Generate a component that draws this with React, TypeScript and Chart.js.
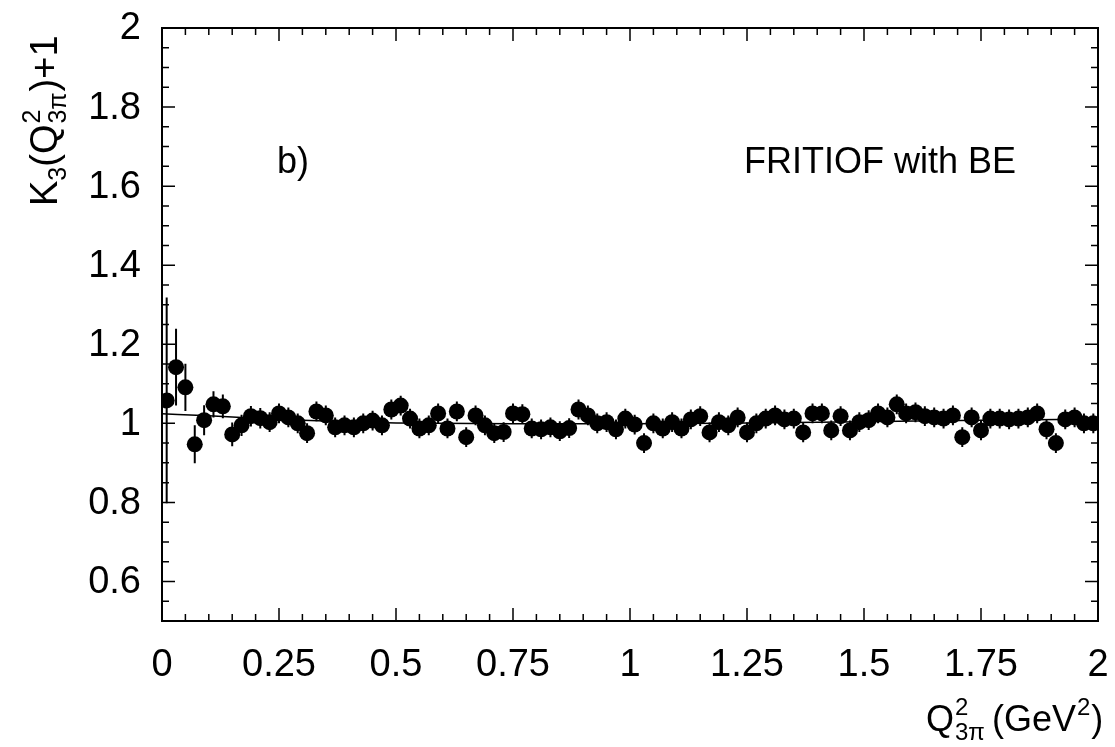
import React, { useEffect, useRef } from "react";
import { Chart, registerables } from "chart.js";
Chart.register(...registerables);

const binCenters = [
  0.01, 0.03, 0.05, 0.07, 0.09, 0.11, 0.13, 0.15, 0.17, 0.19,
  0.21, 0.23, 0.25, 0.27, 0.29, 0.31, 0.33, 0.35, 0.37, 0.39,
  0.41, 0.43, 0.45, 0.47, 0.49, 0.51, 0.53, 0.55, 0.57, 0.59,
  0.61, 0.63, 0.65, 0.67, 0.69, 0.71, 0.73, 0.75, 0.77, 0.79,
  0.81, 0.83, 0.85, 0.87, 0.89, 0.91, 0.93, 0.95, 0.97, 0.99,
  1.01, 1.03, 1.05, 1.07, 1.09, 1.11, 1.13, 1.15, 1.17, 1.19,
  1.21, 1.23, 1.25, 1.27, 1.29, 1.31, 1.33, 1.35, 1.37, 1.39,
  1.41, 1.43, 1.45, 1.47, 1.49, 1.51, 1.53, 1.55, 1.57, 1.59,
  1.61, 1.63, 1.65, 1.67, 1.69, 1.71, 1.73, 1.75, 1.77, 1.79,
  1.81, 1.83, 1.85, 1.87, 1.89, 1.91, 1.93, 1.95, 1.97, 1.99,
];

const k3Values = [
  1.058, 1.142, 1.091, 0.947, 1.008, 1.048, 1.043, 0.972, 0.995, 1.018,
  1.013, 1.003, 1.025, 1.015, 1.0, 0.975, 1.03, 1.02, 0.99, 0.995,
  0.99, 1.0, 1.007, 0.995, 1.035, 1.045, 1.012, 0.987, 0.995, 1.025,
  0.987, 1.03, 0.965, 1.02, 0.995, 0.975, 0.978, 1.025, 1.023, 0.987,
  0.985, 0.99, 0.98, 0.988, 1.035, 1.02, 1.0, 1.003, 0.985, 1.012,
  0.997, 0.95, 1.0, 0.987, 1.003, 0.987, 1.01, 1.018, 0.977, 1.003,
  0.995, 1.015, 0.977, 1.0, 1.012, 1.02, 1.01, 1.012, 0.977, 1.025,
  1.025, 0.982, 1.018, 0.982, 1.003, 1.008, 1.025, 1.015, 1.048, 1.025,
  1.028, 1.018, 1.015, 1.012, 1.02, 0.965, 1.015, 0.982, 1.012, 1.012,
  1.01, 1.012, 1.015, 1.025, 0.985, 0.95, 1.01, 1.015, 1.0, 1.0,
];

const k3Errors = [
  0.26, 0.097, 0.06, 0.048, 0.038, 0.033, 0.03, 0.03, 0.027, 0.026,
  0.026, 0.025, 0.025, 0.025, 0.025, 0.025, 0.025, 0.025, 0.025, 0.025,
  0.025, 0.025, 0.025, 0.025, 0.025, 0.025, 0.025, 0.025, 0.025, 0.025,
  0.025, 0.025, 0.025, 0.025, 0.025, 0.025, 0.025, 0.025, 0.025, 0.025,
  0.025, 0.025, 0.025, 0.025, 0.025, 0.025, 0.025, 0.025, 0.025, 0.025,
  0.025, 0.025, 0.025, 0.025, 0.025, 0.025, 0.025, 0.025, 0.025, 0.025,
  0.025, 0.025, 0.025, 0.025, 0.025, 0.025, 0.025, 0.025, 0.025, 0.025,
  0.025, 0.025, 0.025, 0.025, 0.025, 0.025, 0.025, 0.025, 0.025, 0.025,
  0.025, 0.025, 0.025, 0.025, 0.025, 0.025, 0.025, 0.025, 0.025, 0.025,
  0.025, 0.025, 0.025, 0.025, 0.025, 0.025, 0.025, 0.025, 0.025, 0.025,
];

const fitX = [0, 0.1, 0.2, 0.3, 0.4, 0.5, 0.75, 1.0, 1.25, 1.5, 1.75, 2.0];
const fitY = [1.024, 1.019, 1.013, 1.008, 1.004, 1.001, 0.999, 0.999, 1.001, 1.004, 1.008, 1.01];

const xTickValues = [0, 0.25, 0.5, 0.75, 1, 1.25, 1.5, 1.75, 2];
const yTickValues = [0.6, 0.8, 1, 1.2, 1.4, 1.6, 1.8, 2];
const xMinorStep = 0.05;
const yMinorStep = 0.05;

const FONT = "'Liberation Sans', Arial, Helvetica, sans-serif";

const errorBarPlugin = {
  id: "errorBars",
  beforeDatasetsDraw(chart: any) {
    const { ctx, scales } = chart;
    const xs = scales.x, ys = scales.y;
    ctx.save();
    ctx.strokeStyle = "#000";
    ctx.lineWidth = 2;
    ctx.beginPath();
    for (let i = 0; i < binCenters.length; i++) {
      const px = xs.getPixelForValue(binCenters[i]);
      ctx.moveTo(px, ys.getPixelForValue(k3Values[i] + k3Errors[i]));
      ctx.lineTo(px, ys.getPixelForValue(k3Values[i] - k3Errors[i]));
    }
    ctx.stroke();
    ctx.restore();
  },
};

const framePlugin = {
  id: "frame",
  afterDraw(chart: any) {
    const { ctx, chartArea, scales } = chart;
    const { left, right, top, bottom } = chartArea;
    const xs = scales.x, ys = scales.y;
    ctx.save();
    ctx.strokeStyle = "#000";
    ctx.lineWidth = 2;
    ctx.strokeRect(left, top, right - left, bottom - top);
    ctx.lineWidth = 1.5;
    ctx.beginPath();
    const major = 13, minor = 7;
    for (let i = 0; i <= Math.round((xs.max - xs.min) / xMinorStep); i++) {
      const v = xs.min + i * xMinorStep;
      const isMajor = xTickValues.some((t) => Math.abs(t - v) < 1e-6);
      const len = isMajor ? major : minor;
      const px = xs.getPixelForValue(v);
      ctx.moveTo(px, bottom);
      ctx.lineTo(px, bottom - len);
      ctx.moveTo(px, top);
      ctx.lineTo(px, top + len);
    }
    for (let i = 0; i <= Math.round((ys.max - ys.min) / yMinorStep); i++) {
      const v = ys.min + i * yMinorStep;
      const isMajor = yTickValues.some((t) => Math.abs(t - v) < 1e-6);
      const len = isMajor ? major : minor;
      const py = ys.getPixelForValue(v);
      ctx.moveTo(left, py);
      ctx.lineTo(left + len, py);
      ctx.moveTo(right, py);
      ctx.lineTo(right - len, py);
    }
    ctx.stroke();

    ctx.fillStyle = "#000";

    // tick labels
    ctx.font = `38px ${FONT}`;
    ctx.textBaseline = "middle";
    ctx.textAlign = "right";
    for (const v of yTickValues) {
      ctx.fillText(String(v), 141, ys.getPixelForValue(v) + 1);
    }
    ctx.textBaseline = "alphabetic";
    ctx.textAlign = "center";
    for (const v of xTickValues) {
      ctx.fillText(String(v), xs.getPixelForValue(v), 676);
    }

    // texts
    ctx.textAlign = "left";
    ctx.font = `36px ${FONT}`;
    ctx.fillText("b)", 277, 173);
    ctx.fillText("FRITIOF with BE", 744, 173);

    // x axis title: Q^2_{3π} (GeV^2)
    const big = 36, small = 24;
    let x = 926;
    const by = 731;
    ctx.font = `${big}px ${FONT}`;
    ctx.fillText("Q", x, by);
    x += ctx.measureText("Q").width + 1;
    ctx.font = `${small}px ${FONT}`;
    ctx.fillText("2", x, by - 16);
    ctx.fillText("3π", x, by + 9);
    x += ctx.measureText("3π").width + 7;
    ctx.font = `${big}px ${FONT}`;
    ctx.fillText("(GeV", x, by);
    x += ctx.measureText("(GeV").width + 1;
    ctx.font = `${small}px ${FONT}`;
    ctx.fillText("2", x, by - 16);
    x += ctx.measureText("2").width + 1;
    ctx.font = `${big}px ${FONT}`;
    ctx.fillText(")", x, by);

    // y axis title: K_3(Q^2_{3π})+1
    const ybig = 38, ysmall = 25;
    ctx.save();
    ctx.translate(57, 206);
    ctx.rotate(-Math.PI / 2);
    let t = 0;
    ctx.font = `${ybig}px ${FONT}`;
    ctx.fillText("K", t, 0);
    t += ctx.measureText("K").width;
    ctx.font = `${ysmall}px ${FONT}`;
    ctx.fillText("3", t, 9);
    t += ctx.measureText("3").width;
    ctx.font = `${ybig}px ${FONT}`;
    ctx.fillText("(Q", t, 0);
    t += ctx.measureText("(Q").width + 1;
    ctx.font = `${ysmall}px ${FONT}`;
    ctx.fillText("2", t, -17);
    ctx.fillText("3π", t, 9);
    t += ctx.measureText("3π").width + 1;
    ctx.font = `${ybig}px ${FONT}`;
    ctx.fillText(")+1", t, 0);
    ctx.restore();

    ctx.restore();
  },
};

export default function App() {
  const canvasRef = useRef<HTMLCanvasElement | null>(null);

  useEffect(() => {
    document.body.style.margin = "0";
    const canvas = canvasRef.current;
    if (!canvas) return;
    const points = binCenters.map((x, i) => ({ x, y: k3Values[i] }));
    const fit = fitX.map((x, i) => ({ x, y: fitY[i] }));
    const chart = new Chart(canvas, {
      type: "scatter",
      data: {
        datasets: [
          {
            label: "data",
            data: points,
            pointRadius: 8,
            pointHoverRadius: 8,
            pointBackgroundColor: "#000",
            pointBorderColor: "#000",
            pointBorderWidth: 0,
            order: 1,
          },
          {
            label: "fit",
            data: fit,
            showLine: true,
            borderColor: "#000",
            borderWidth: 1.5,
            pointRadius: 0,
            cubicInterpolationMode: "monotone",
            order: 2,
          } as any,
        ],
      },
      options: {
        animation: false,
        responsive: false,
        events: [],
        layout: { padding: { top: 28, right: 17, left: 0, bottom: 0 } },
        plugins: { legend: { display: false }, tooltip: { enabled: false } },
        scales: {
          x: {
            type: "linear",
            min: 0,
            max: 2,
            afterFit: (s: any) => {
              s.height = 126;
              s.paddingLeft = 0;
              s.paddingRight = 0;
            },
            ticks: { display: false },
            grid: { display: false, drawTicks: false },
            border: { display: false },
          },
          y: {
            type: "linear",
            min: 0.5,
            max: 2,
            afterFit: (s: any) => {
              s.width = 162;
              s.paddingTop = 0;
              s.paddingBottom = 0;
            },
            ticks: { display: false },
            grid: { display: false, drawTicks: false },
            border: { display: false },
          },
        },
      },
      plugins: [errorBarPlugin, framePlugin],
    });
    return () => chart.destroy();
  }, []);

  return (
    <div style={{ width: 1115, height: 747, background: "#fff" }}>
      <canvas ref={canvasRef} width={1115} height={747} style={{ display: "block" }} />
    </div>
  );
}
